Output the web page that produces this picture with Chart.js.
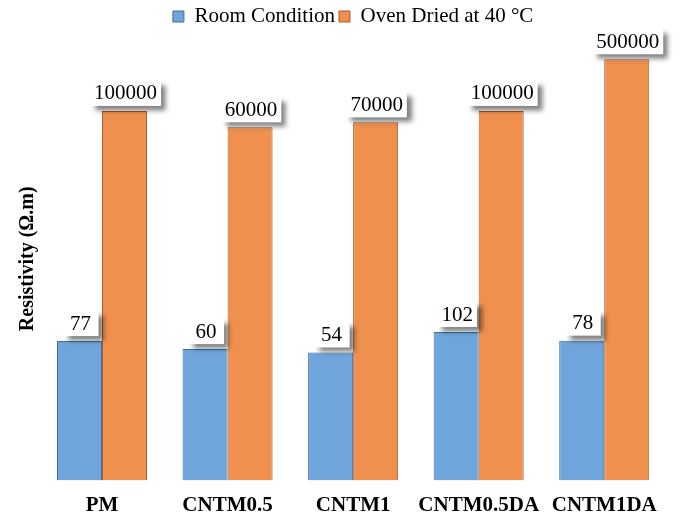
<!DOCTYPE html>
<html>
<head>
<meta charset="utf-8">
<script src="https://cdn.jsdelivr.net/npm/chart.js@4/dist/chart.umd.min.js"></script>
<style>
    html, body { margin: 0; padding: 0; background: #fff; }
    #wrap { width: 681px; height: 517px; }
</style>
</head>
<body>
<div id="wrap"><canvas id="resistivityChart"></canvas></div>
<script>
var samples = ['PM', 'CNTM0.5', 'CNTM1', 'CNTM0.5DA', 'CNTM1DA'];
var roomCondition = [77, 60, 54, 102, 78];
var ovenDried = [100000, 60000, 70000, 100000, 500000];

// white callout boxes with a soft drop shadow above every bar
var valueBoxes = {
    id: 'valueBoxes',
    afterDatasetsDraw: function (chart) {
        var ctx = chart.ctx;
        ctx.save();
        ctx.font = '21px "Liberation Serif"';
        ctx.textAlign = 'center';
        ctx.textBaseline = 'middle';
        chart.data.datasets.forEach(function (ds, i) {
            chart.getDatasetMeta(i).data.forEach(function (bar, j) {
                var text = String(ds.data[j]);
                var w = Math.max(ctx.measureText(text).width + 8, 36);
                var h = 26;
                var x = bar.x + 1 - w / 2;
                var y = bar.y - 5 - h;
                ctx.shadowColor = 'rgba(0, 0, 0, 0.5)';
                ctx.shadowBlur = 5;
                ctx.shadowOffsetX = 5;
                ctx.shadowOffsetY = 5;
                ctx.fillStyle = '#ffffff';
                ctx.fillRect(x, y, w, h);
                ctx.shadowColor = 'transparent';
                ctx.fillStyle = '#000000';
                ctx.fillText(text, x + w / 2, y + h / 2 + 1);
            });
        });
        ctx.restore();
    }
};

document.addEventListener('DOMContentLoaded', function () {
    var ctx = document.getElementById('resistivityChart').getContext('2d');

    var resistivityChart = new Chart(ctx, {
        type: 'bar',
        data: {
            labels: samples,
            datasets: [{
                label: 'Room Condition',
                data: roomCondition,
                backgroundColor: '#6FA5DA',
                borderColor: '#3E6E9E',
                borderWidth: 1
            }, {
                label: 'Oven Dried at 40 °C',
                data: ovenDried,
                backgroundColor: '#F0904E',
                borderColor: '#A9582A',
                borderWidth: 1
            }]
        },
        plugins: [valueBoxes],
        options: {
            responsive: true,
            maintainAspectRatio: false,
            animation: false,
            layout: {
                padding: { top: 2, left: 0, right: 14, bottom: 0 }
            },
            datasets: {
                bar: {
                    categoryPercentage: 0.717,
                    barPercentage: 1
                }
            },
            plugins: {
                legend: {
                    position: 'top',
                    fullSize: false,
                    labels: {
                        boxWidth: 11,
                        boxHeight: 11,
                        padding: 4,
                        color: '#000',
                        font: { family: 'Liberation Serif', size: 21, lineHeight: 1 }
                    }
                },
                tooltip: { enabled: false }
            },
            scales: {
                x: {
                    grid: { display: false, drawTicks: false },
                    border: { display: false },
                    ticks: {
                        padding: 12,
                        maxRotation: 0,
                        minRotation: 0,
                        autoSkip: false,
                        color: '#000',
                        font: { family: 'Liberation Serif', size: 21, weight: 'bold' }
                    },
                    afterFit: function (scale) { scale.height = 36.5; }
                },
                y: {
                    type: 'logarithmic',
                    min: 1,
                    max: 1000000,
                    grid: { display: false, drawTicks: false },
                    border: { display: false },
                    ticks: { display: false },
                    title: {
                        display: true,
                        text: 'Resistivity (Ω.m)',
                        color: '#000',
                        padding: { top: 16, bottom: 0 },
                        font: { family: 'Liberation Serif', size: 20, weight: 'bold' }
                    },
                    afterFit: function (scale) { scale.width = 39.25; }
                }
            }
        }
    });
});
</script>
</body>
</html>
